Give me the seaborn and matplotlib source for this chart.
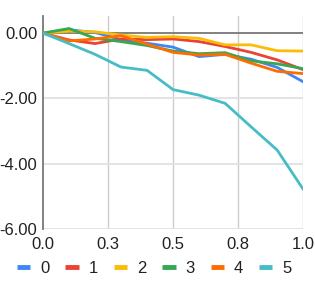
import numpy as np
import pandas as pd
import matplotlib
matplotlib.use("Agg")
import matplotlib.pyplot as plt
import seaborn as sns

x_vals = [0.0, 0.1, 0.2, 0.3, 0.4, 0.5, 0.6, 0.7, 0.8, 0.9, 1.0]
s0 = [0.0, 0.10, 0.02, -0.20, -0.31, -0.43, -0.72, -0.65, -0.80, -1.05, -1.49]
s1 = [0.0, -0.21, -0.32, -0.18, -0.20, -0.18, -0.26, -0.41, -0.59, -0.82, -1.12]
s2 = [0.0, 0.06, 0.04, -0.06, -0.13, -0.11, -0.16, -0.36, -0.36, -0.54, -0.55]
s3 = [0.0, 0.14, -0.16, -0.26, -0.38, -0.55, -0.63, -0.60, -0.85, -0.94, -1.09]
s4 = [0.0, -0.24, -0.18, -0.08, -0.34, -0.59, -0.67, -0.65, -0.92, -1.17, -1.24]
s5 = [0.0, -0.32, -0.65, -1.04, -1.14, -1.73, -1.90, -2.15, -2.87, -3.58, -4.78]
series_names = ["0", "1", "2", "3", "4", "5"]
colors = ["#4285F4", "#EA4335", "#FBBC04", "#34A853", "#FF6D01", "#46BDC6"]
xticks = [0.0, 0.25, 0.5, 0.75, 1.0]
xtick_labels = ["0.0", "0.3", "0.5", "0.8", "1.0"]
yticks = [0.0, -2.0, -4.0, -6.0]
ytick_labels = ["0.00", "-2.00", "-4.00", "-6.00"]

rows = []
for name, vals in zip(series_names, [s0, s1, s2, s3, s4, s5]):
    for xv, yv in zip(x_vals, vals):
        rows.append({"x": xv, "y": yv, "series": name})
df = pd.DataFrame(rows)

sns.set_theme(style="white")
plt.rcParams["font.family"] = ["Liberation Sans", "DejaVu Sans"]

fig = plt.figure(figsize=(3.15, 2.93), dpi=100)
ax = fig.add_axes([0.1365, 0.218, 0.826, 0.727])

for xt in xticks[1:]:
    ax.axvline(xt, color="#cccccc", lw=1, zorder=0)
for yt in yticks[1:]:
    ax.axhline(yt, color="#e0e0e0", lw=1.3, zorder=0)

sns.lineplot(data=df, x="x", y="y", hue="series", palette=colors,
             linewidth=2, ax=ax, legend=True, zorder=3)
ax.axhline(0, color="#777777", lw=1.3, zorder=2)

ax.set_xlim(0, 1.0)
ax.set_ylim(-6, 0.52)
ax.set_xticks(xticks)
ax.set_xticklabels(xtick_labels)
ax.set_yticks(yticks)
ax.set_yticklabels(ytick_labels)
ax.tick_params(axis="both", length=0, labelsize=12, colors="#222222")
ax.tick_params(axis="x", pad=6)
ax.tick_params(axis="y", pad=4)
ax.set_xlabel("")
ax.set_ylabel("")
for side in ["top", "right", "bottom"]:
    ax.spines[side].set_visible(False)
ax.spines["left"].set_color("#777777")
ax.spines["left"].set_linewidth(1.3)

handles, labels = ax.get_legend_handles_labels()
for h in handles:
    h.set_linewidth(3.5)
    h.set_solid_capstyle("butt")
ax.get_legend().remove()
fig.legend(handles, labels, loc="center", bbox_to_anchor=(0.49, 0.085),
           ncol=6, frameon=False, fontsize=12, handlelength=0.8,
           handletextpad=0.6, columnspacing=0.95, borderaxespad=0,
           labelcolor="#222222")

fig.savefig("out.png", dpi=100)
